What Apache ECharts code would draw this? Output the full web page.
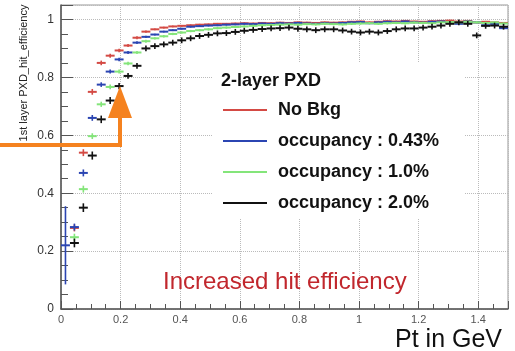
<!DOCTYPE html>
<html>
<head>
<meta charset="utf-8">
<script src="https://cdn.jsdelivr.net/npm/echarts@6/dist/echarts.min.js"></script>
<style>
  html, body { margin: 0; padding: 0; background: #fff; }
  #chart { width: 515px; height: 351px; }
</style>
</head>
<body>
<div id="chart"></div>
<script>
// bin centres (Pt, GeV), bin width 0.03
var xCenters = [0.015,0.045,0.075,0.105,0.135,0.165,0.195,0.225,0.255,0.285,
  0.315,0.345,0.375,0.405,0.435,0.465,0.495,0.525,0.555,0.585,
  0.615,0.645,0.675,0.705,0.735,0.765,0.795,0.825,0.855,0.885,
  0.915,0.945,0.975,1.005,1.035,1.065,1.095,1.125,1.155,1.185,
  1.215,1.245,1.275,1.305,1.335,1.365,1.395,1.425,1.455,1.485];
var binHalf = 0.015;

var seriesNames = ['No Bkg', 'occupancy : 0.43%', 'occupancy : 1.0%', 'occupancy : 2.0%'];

var noBkg = [null,0.28,0.54,0.75,0.85,0.875,0.893,0.91,0.937,0.958,
  0.966,0.972,0.976,0.978,0.98,0.982,0.983,0.985,0.985,0.986,
  0.987,0.986,0.988,0.987,0.989,0.988,0.99,0.989,0.988,0.99,
  0.989,0.99,0.992,0.993,0.99,0.992,0.994,0.993,0.995,0.993,
  0.992,0.994,0.995,0.996,0.993,0.995,0.99,0.992,0.99,0.988];
var occ043 = [0.22,0.283,0.47,0.66,0.775,0.82,0.862,0.886,0.92,0.94,
  0.948,0.958,0.963,0.968,0.975,0.977,0.979,0.98,0.982,0.983,
  0.985,0.984,0.986,0.985,0.987,0.986,0.988,0.986,0.985,0.987,
  0.986,0.988,0.99,0.991,0.987,0.99,0.992,0.99,0.993,0.99,
  0.989,0.992,0.993,0.99,0.985,0.993,0.99,0.98,0.985,0.97];
var occ10 = [null,0.248,0.414,0.597,0.707,0.767,0.82,0.848,0.886,0.925,
  0.935,0.942,0.95,0.955,0.96,0.963,0.966,0.97,0.972,0.974,
  0.976,0.978,0.98,0.981,0.982,0.983,0.982,0.984,0.983,0.985,
  0.984,0.983,0.985,0.986,0.987,0.985,0.987,0.988,0.987,0.989,
  0.988,0.987,0.99,0.991,0.99,0.992,0.99,0.988,0.99,0.986];
var occ20 = [null,0.228,0.35,0.53,0.655,0.72,0.77,0.805,0.84,0.9,
  0.908,0.914,0.92,0.928,0.935,0.943,0.947,0.952,0.953,0.957,
  0.961,0.964,0.967,0.969,0.97,0.972,0.968,0.966,0.963,0.966,
  0.966,0.962,0.958,0.955,0.958,0.955,0.96,0.966,0.969,0.969,
  0.972,0.975,0.979,0.985,0.99,0.985,0.945,0.978,0.979,0.975];

// vertical error (half height) for the first bins, then the rest
var noBkgErr = [0,0.012,0.012,0.01,0.008,0.007,0.006,0.005,0.005,0.004];
var occ043Err = [0.135,0.012,0.012,0.01,0.008,0.007,0.006,0.005,0.005,0.004];
var occ10Err = [0,0.012,0.012,0.01,0.009,0.008,0.007,0.006,0.005,0.005];
var occ20Err = [0,0.015,0.015,0.014,0.013,0.012,0.011,0.01,0.01,0.01];
var errTail = [0.003, 0.003, 0.004, 0.01];

var colors = ['#d44a44', '#2b45b2', '#84e57a', '#111111'];

function makeData(vals, errs, tail) {
  var out = [];
  for (var i = 0; i < xCenters.length; i++) {
    if (vals[i] == null) continue;
    out.push([xCenters[i], vals[i], i < errs.length ? errs[i] : tail]);
  }
  return out;
}

function renderCross(params, api) {
  var x = api.value(0), y = api.value(1), e = api.value(2);
  var l = api.coord([x - binHalf, y]);
  var r = api.coord([x + binHalf, y]);
  var t = api.coord([x, y + e]);
  var b = api.coord([x, y - e]);
  var c = api.visual('color');
  return {
    type: 'group',
    children: [
      { type: 'line', shape: { x1: l[0], y1: l[1], x2: r[0], y2: r[1] }, style: { stroke: c, lineWidth: 2 } },
      { type: 'line', shape: { x1: t[0], y1: t[1], x2: b[0], y2: b[1] }, style: { stroke: c, lineWidth: 1.6 } }
    ]
  };
}

var allVals = [noBkg, occ043, occ10, occ20];
var allErrs = [noBkgErr, occ043Err, occ10Err, occ20Err];
var series = [];
for (var s = 0; s < 4; s++) {
  series.push({
    name: seriesNames[s],
    type: 'custom',
    renderItem: renderCross,
    itemStyle: { color: colors[s] },
    encode: { x: 0, y: 1 },
    data: makeData(allVals[s], allErrs[s], errTail[s]),
    z: 2 + s
  });
}

var myChart = echarts.init(document.getElementById('chart'));
var option = {
  backgroundColor: '#fff',
  animation: false,
  textStyle: { fontFamily: 'Liberation Sans' },
  title: {
    text: '2-layer PXD',
    left: 221, top: 72, padding: 0,
    textStyle: { fontSize: 18, fontWeight: 'bold', color: '#111', fontFamily: 'Liberation Sans' },
    z: 10
  },
  legend: {
    data: seriesNames,
    orient: 'vertical',
    left: 213, top: 63,
    padding: [38, 25, 6, 10],
    itemGap: 13,
    itemWidth: 44, itemHeight: 2,
    icon: 'rect',
    backgroundColor: '#fff',
    textStyle: { fontSize: 18, fontWeight: 'bold', color: '#111', fontFamily: 'Liberation Sans', padding: [0, 0, 0, 6] }
  },
  grid: {
    left: 61, right: 7, top: 5, bottom: 42,
    containLabel: false, outerBoundsMode: 'none',
    show: true, borderColor: '#999', borderWidth: 1
  },
  xAxis: {
    type: 'value', min: 0, max: 1.5, interval: 0.2,
    axisLine: { lineStyle: { color: '#555', width: 1.5 } },
    axisTick: { inside: true, length: 8, lineStyle: { color: '#555' } },
    minorTick: { show: true, splitNumber: 4, length: 5, lineStyle: { color: '#555' } },
    axisLabel: { showMaxLabel: false, fontSize: 11, color: '#555', margin: 5 },
    splitLine: { show: true, lineStyle: { color: '#bbb', type: 'dotted' } }
  },
  yAxis: {
    type: 'value', min: 0, max: 1.05, interval: 0.2,
    axisLine: { show: true, lineStyle: { color: '#555', width: 1.5 } },
    axisTick: { show: true, inside: true, length: 12, lineStyle: { color: '#555' } },
    minorTick: { show: true, splitNumber: 4, length: 7, lineStyle: { color: '#555' } },
    axisLabel: { showMaxLabel: false, fontSize: 12, color: '#333', margin: 7 },
    splitLine: { show: true, lineStyle: { color: '#bbb', type: 'dotted' } }
  },
  graphic: [
    {
      type: 'text', x: 24, y: 73, rotation: Math.PI / 2,
      style: { text: '1st layer PXD_hit_efficiency', fontSize: 11, fill: '#222', fontFamily: 'Liberation Sans', align: 'center', verticalAlign: 'middle' }
    },
    {
      type: 'text', left: 163, top: 270, z: 20,
      style: { text: 'Increased hit efficiency', fontSize: 24, fill: '#c1272d', fontFamily: 'Liberation Sans' }
    },
    {
      type: 'text', right: 13, top: 328, z: 20,
      style: { text: 'Pt in GeV', fontSize: 25, fill: '#111', fontFamily: 'Liberation Sans' }
    },
    {
      type: 'polyline', z: 30,
      shape: { points: [[0, 145], [120, 145], [120, 112]] },
      style: { stroke: '#f5821f', lineWidth: 4, fill: null }
    },
    {
      type: 'polygon', z: 30,
      shape: { points: [[108, 118], [132, 118], [120, 86]] },
      style: { fill: '#f5821f' }
    }
  ],
  series: series
};
myChart.setOption(option);
</script>
</body>
</html>
